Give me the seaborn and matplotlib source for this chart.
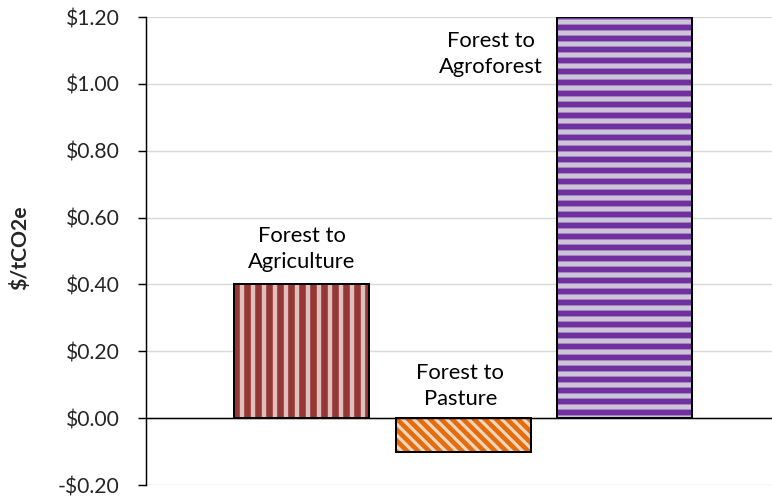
import numpy as np
import matplotlib
matplotlib.use("Agg")
import matplotlib.pyplot as plt
from matplotlib.patches import Rectangle
from matplotlib.ticker import FuncFormatter
import seaborn as sns

# data
categories = ["Forest to Agriculture", "Forest to Pasture", "Forest to Agroforest"]
values = [0.40, -0.10, 1.20]
bar_labels = ["Forest to\nAgriculture", "Forest to\nPasture", "Forest to\nAgroforest"]
y_ticks = [-0.2, 0.0, 0.2, 0.4, 0.6, 0.8, 1.0, 1.2]

light_colors = ["#E6B9B8", "#FCD5B5", "#CCC1DA"]
stripe_colors = ["#953735", "#E46C0A", "#7030A0"]
hatches = ["||", "\\\\\\\\", "--"]
hatch_lw = [3.6, 2.5, 3.2]
# label offsets in points (dx, dy) from bar top / zero
label_offsets = [(0, 8.7), (-1.5, 7.0), (-72.8, -30.5)]

sns.set_style("white")
plt.rcParams['font.family'] = ['Lato', 'DejaVu Sans']
plt.rcParams['hatch.linewidth'] = 3.0

DPI = 132
fig = plt.figure(figsize=(772 / DPI, 498 / DPI), dpi=DPI)
ax = fig.add_axes([146 / 772, 13 / 498, 626 / 772, 468 / 498])

sns.barplot(x=categories, y=values, hue=categories, palette=light_colors,
            order=categories, hue_order=categories, width=0.836,
            legend=False, ax=ax, zorder=2)

bars = list(ax.patches)
for i, p in enumerate(bars):
    p.set_edgecolor(stripe_colors[i])
    p.set_hatch(hatches[i])
    p.set_linewidth(0)
    if hasattr(p, "set_hatch_linewidth"):
        p.set_hatch_linewidth(hatch_lw[i])
    ax.add_patch(Rectangle(p.get_xy(), p.get_width(), p.get_height(),
                           fill=False, edgecolor="black", lw=1.1, zorder=3))

for i, (lab, v) in enumerate(zip(bar_labels, values)):
    dx, dy = label_offsets[i]
    ax.annotate(lab, xy=(i, max(v, 0)), xytext=(dx, dy), textcoords="offset points",
                ha="center", va="baseline", fontsize=12, linespacing=1.4,
                color="black", zorder=4)

ax.axhline(0, color="black", lw=0.8, zorder=3)

ax.set_ylim(-0.2, 1.2)
ax.set_xlim(-0.963, 2.913)
ax.set_yticks(y_ticks)
ax.yaxis.set_major_formatter(FuncFormatter(lambda v, _: ("-$%.2f" % abs(v)) if v < -1e-9 else "$%.2f" % abs(v)))
ax.set_xticks([])
ax.set_xlabel("")
ax.set_ylabel("")
ax.grid(axis="y", color="#D9D9D9", lw=0.8, zorder=0)
ax.set_axisbelow(True)

for s in ["top", "right", "bottom"]:
    ax.spines[s].set_visible(False)
ax.spines["left"].set_color("black")
ax.spines["left"].set_linewidth(0.8)
ax.tick_params(axis="y", direction="out", length=4.4, width=0.8, color="black",
               pad=10, labelsize=11.5, left=True)

fig.text(20 / 772, 1 - 248 / 498, "$/tCO2e", rotation=90, ha="center", va="center",
         fontsize=11.5, fontweight="bold")

fig.savefig("out.png", dpi=DPI)
